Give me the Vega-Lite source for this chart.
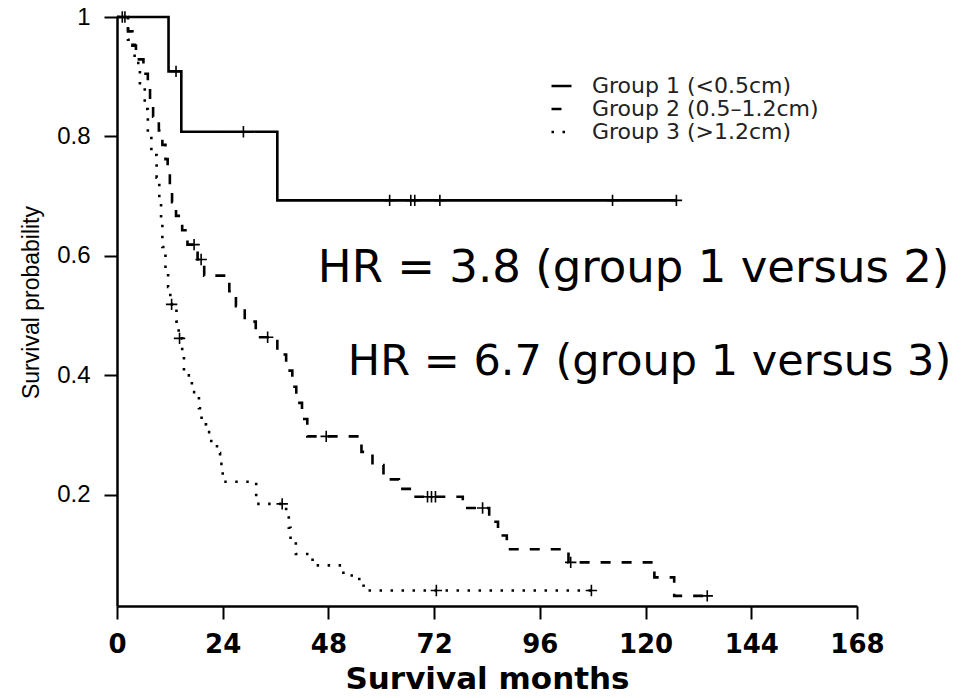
{
  "$schema": "https://vega.github.io/schema/vega-lite/v6.json",
  "width": 740,
  "height": 589,
  "autosize": {"type": "none"},
  "padding": {"left": 117, "top": 17, "right": 104, "bottom": 92},
  "background": "white",
  "config": {
    "view": {"stroke": null},
    "axis": {
      "grid": false,
      "domainColor": "black",
      "domainWidth": 2.5,
      "tickColor": "black",
      "tickWidth": 2,
      "tickSize": 13,
      "labelColor": "black",
      "titleColor": "black",
      "labelOverlap": false,
      "labelFlush": false
    }
  },
  "datasets": {
    "km": [
      {"group": "Group 1 (<0.5cm)", "month": 0, "surv": 1},
      {"group": "Group 1 (<0.5cm)", "month": 11.7, "surv": 0.909},
      {"group": "Group 1 (<0.5cm)", "month": 14.6, "surv": 0.808},
      {"group": "Group 1 (<0.5cm)", "month": 36.4, "surv": 0.693},
      {"group": "Group 1 (<0.5cm)", "month": 127, "surv": 0.693},

      {"group": "Group 2 (0.5\u20131.2cm)", "month": 0, "surv": 1},
      {"group": "Group 2 (0.5\u20131.2cm)", "month": 2.5, "surv": 0.976},
      {"group": "Group 2 (0.5\u20131.2cm)", "month": 3.5, "surv": 0.952},
      {"group": "Group 2 (0.5\u20131.2cm)", "month": 4.3, "surv": 0.929},
      {"group": "Group 2 (0.5\u20131.2cm)", "month": 6, "surv": 0.905},
      {"group": "Group 2 (0.5\u20131.2cm)", "month": 7, "surv": 0.881},
      {"group": "Group 2 (0.5\u20131.2cm)", "month": 7.5, "surv": 0.857},
      {"group": "Group 2 (0.5\u20131.2cm)", "month": 8.2, "surv": 0.833},
      {"group": "Group 2 (0.5\u20131.2cm)", "month": 9.5, "surv": 0.81},
      {"group": "Group 2 (0.5\u20131.2cm)", "month": 10.3, "surv": 0.786},
      {"group": "Group 2 (0.5\u20131.2cm)", "month": 11, "surv": 0.762},
      {"group": "Group 2 (0.5\u20131.2cm)", "month": 11.5, "surv": 0.738},
      {"group": "Group 2 (0.5\u20131.2cm)", "month": 12, "surv": 0.714},
      {"group": "Group 2 (0.5\u20131.2cm)", "month": 12.5, "surv": 0.69},
      {"group": "Group 2 (0.5\u20131.2cm)", "month": 13.4, "surv": 0.667},
      {"group": "Group 2 (0.5\u20131.2cm)", "month": 14.8, "surv": 0.643},
      {"group": "Group 2 (0.5\u20131.2cm)", "month": 16, "surv": 0.619},
      {"group": "Group 2 (0.5\u20131.2cm)", "month": 18.3, "surv": 0.594},
      {"group": "Group 2 (0.5\u20131.2cm)", "month": 19.8, "surv": 0.567},
      {"group": "Group 2 (0.5\u20131.2cm)", "month": 25.5, "surv": 0.541},
      {"group": "Group 2 (0.5\u20131.2cm)", "month": 27, "surv": 0.516},
      {"group": "Group 2 (0.5\u20131.2cm)", "month": 29, "surv": 0.49},
      {"group": "Group 2 (0.5\u20131.2cm)", "month": 31.5, "surv": 0.464},
      {"group": "Group 2 (0.5\u20131.2cm)", "month": 36.4, "surv": 0.435},
      {"group": "Group 2 (0.5\u20131.2cm)", "month": 38.4, "surv": 0.408},
      {"group": "Group 2 (0.5\u20131.2cm)", "month": 39.8, "surv": 0.381},
      {"group": "Group 2 (0.5\u20131.2cm)", "month": 40.7, "surv": 0.354},
      {"group": "Group 2 (0.5\u20131.2cm)", "month": 42, "surv": 0.327},
      {"group": "Group 2 (0.5\u20131.2cm)", "month": 43.2, "surv": 0.298},
      {"group": "Group 2 (0.5\u20131.2cm)", "month": 55.5, "surv": 0.272},
      {"group": "Group 2 (0.5\u20131.2cm)", "month": 58, "surv": 0.25},
      {"group": "Group 2 (0.5\u20131.2cm)", "month": 60.5, "surv": 0.226},
      {"group": "Group 2 (0.5\u20131.2cm)", "month": 64, "surv": 0.21},
      {"group": "Group 2 (0.5\u20131.2cm)", "month": 67, "surv": 0.197},
      {"group": "Group 2 (0.5\u20131.2cm)", "month": 78.5, "surv": 0.178},
      {"group": "Group 2 (0.5\u20131.2cm)", "month": 84.5, "surv": 0.155},
      {"group": "Group 2 (0.5\u20131.2cm)", "month": 86.5, "surv": 0.132},
      {"group": "Group 2 (0.5\u20131.2cm)", "month": 88.5, "surv": 0.109},
      {"group": "Group 2 (0.5\u20131.2cm)", "month": 102.5, "surv": 0.087},
      {"group": "Group 2 (0.5\u20131.2cm)", "month": 122, "surv": 0.062},
      {"group": "Group 2 (0.5\u20131.2cm)", "month": 126.5, "surv": 0.031},
      {"group": "Group 2 (0.5\u20131.2cm)", "month": 134, "surv": 0.031},

      {"group": "Group 3 (>1.2cm)", "month": 0, "surv": 1},
      {"group": "Group 3 (>1.2cm)", "month": 2.5, "surv": 0.962},
      {"group": "Group 3 (>1.2cm)", "month": 4, "surv": 0.923},
      {"group": "Group 3 (>1.2cm)", "month": 5.2, "surv": 0.885},
      {"group": "Group 3 (>1.2cm)", "month": 6.3, "surv": 0.846},
      {"group": "Group 3 (>1.2cm)", "month": 7, "surv": 0.808},
      {"group": "Group 3 (>1.2cm)", "month": 7.8, "surv": 0.769},
      {"group": "Group 3 (>1.2cm)", "month": 9, "surv": 0.731},
      {"group": "Group 3 (>1.2cm)", "month": 9.6, "surv": 0.692},
      {"group": "Group 3 (>1.2cm)", "month": 10, "surv": 0.654},
      {"group": "Group 3 (>1.2cm)", "month": 10.3, "surv": 0.615},
      {"group": "Group 3 (>1.2cm)", "month": 11, "surv": 0.577},
      {"group": "Group 3 (>1.2cm)", "month": 11.6, "surv": 0.548},
      {"group": "Group 3 (>1.2cm)", "month": 12.1, "surv": 0.519},
      {"group": "Group 3 (>1.2cm)", "month": 13.5, "surv": 0.49},
      {"group": "Group 3 (>1.2cm)", "month": 14, "surv": 0.462},
      {"group": "Group 3 (>1.2cm)", "month": 14.8, "surv": 0.433},
      {"group": "Group 3 (>1.2cm)", "month": 15.2, "surv": 0.4},
      {"group": "Group 3 (>1.2cm)", "month": 17, "surv": 0.372},
      {"group": "Group 3 (>1.2cm)", "month": 18.6, "surv": 0.345},
      {"group": "Group 3 (>1.2cm)", "month": 19.2, "surv": 0.318},
      {"group": "Group 3 (>1.2cm)", "month": 20.2, "surv": 0.305},
      {"group": "Group 3 (>1.2cm)", "month": 21.4, "surv": 0.286},
      {"group": "Group 3 (>1.2cm)", "month": 22.7, "surv": 0.27},
      {"group": "Group 3 (>1.2cm)", "month": 23.4, "surv": 0.252},
      {"group": "Group 3 (>1.2cm)", "month": 24, "surv": 0.222},
      {"group": "Group 3 (>1.2cm)", "month": 31.6, "surv": 0.185},
      {"group": "Group 3 (>1.2cm)", "month": 38.4, "surv": 0.165},
      {"group": "Group 3 (>1.2cm)", "month": 39, "surv": 0.145},
      {"group": "Group 3 (>1.2cm)", "month": 39.4, "surv": 0.126},
      {"group": "Group 3 (>1.2cm)", "month": 40.6, "surv": 0.101},
      {"group": "Group 3 (>1.2cm)", "month": 44.4, "surv": 0.082},
      {"group": "Group 3 (>1.2cm)", "month": 51.4, "surv": 0.065},
      {"group": "Group 3 (>1.2cm)", "month": 55, "surv": 0.048},
      {"group": "Group 3 (>1.2cm)", "month": 56, "surv": 0.04},
      {"group": "Group 3 (>1.2cm)", "month": 107.7, "surv": 0.04}
    ],
    "censored": [
      {"group": "Group 1 (<0.5cm)", "month": 13.4, "surv": 0.909},
      {"group": "Group 1 (<0.5cm)", "month": 28.7, "surv": 0.808},
      {"group": "Group 1 (<0.5cm)", "month": 61.9, "surv": 0.693},
      {"group": "Group 1 (<0.5cm)", "month": 66.7, "surv": 0.693},
      {"group": "Group 1 (<0.5cm)", "month": 67.6, "surv": 0.693},
      {"group": "Group 1 (<0.5cm)", "month": 73.3, "surv": 0.693},
      {"group": "Group 1 (<0.5cm)", "month": 112.5, "surv": 0.693},
      {"group": "Group 1 (<0.5cm)", "month": 127, "surv": 0.693},
      {"group": "Group 2 (0.5\u20131.2cm)", "month": 1.2, "surv": 1},
      {"group": "Group 2 (0.5\u20131.2cm)", "month": 1.8, "surv": 1},
      {"group": "Group 2 (0.5\u20131.2cm)", "month": 17.5, "surv": 0.619},
      {"group": "Group 2 (0.5\u20131.2cm)", "month": 19.1, "surv": 0.594},
      {"group": "Group 2 (0.5\u20131.2cm)", "month": 34.2, "surv": 0.464},
      {"group": "Group 2 (0.5\u20131.2cm)", "month": 47.5, "surv": 0.298},
      {"group": "Group 2 (0.5\u20131.2cm)", "month": 70.5, "surv": 0.197},
      {"group": "Group 2 (0.5\u20131.2cm)", "month": 71.4, "surv": 0.197},
      {"group": "Group 2 (0.5\u20131.2cm)", "month": 72.3, "surv": 0.197},
      {"group": "Group 2 (0.5\u20131.2cm)", "month": 83, "surv": 0.178},
      {"group": "Group 2 (0.5\u20131.2cm)", "month": 103, "surv": 0.087},
      {"group": "Group 2 (0.5\u20131.2cm)", "month": 134, "surv": 0.031},
      {"group": "Group 3 (>1.2cm)", "month": 12.4, "surv": 0.519},
      {"group": "Group 3 (>1.2cm)", "month": 14.2, "surv": 0.462},
      {"group": "Group 3 (>1.2cm)", "month": 37.5, "surv": 0.185},
      {"group": "Group 3 (>1.2cm)", "month": 72.5, "surv": 0.04},
      {"group": "Group 3 (>1.2cm)", "month": 107.7, "surv": 0.04}
    ],
    "notes": [
      {"line": 1, "label": "HR = 3.8 (group 1 versus 2)", "month": 45.6, "surv": 0.579},
      {"line": 2, "label": "HR = 6.7 (group 1 versus 3)", "month": 52.4, "surv": 0.423}
    ]
  },
  "layer": [
    {
      "data": {"name": "km"},
      "mark": {"type": "line", "interpolate": "step-after", "color": "black", "strokeWidth": 2.6, "strokeCap": "butt"},
      "encoding": {
        "x": {
          "field": "month", "type": "quantitative",
          "scale": {"domain": [0, 168], "nice": false, "zero": false},
          "axis": {
            "values": [0, 24, 48, 72, 96, 120, 144, 168],
            "title": "Survival months",
            "titleFont": "DejaVu Sans",
            "titleFontSize": 31,
            "titleFontWeight": "bold",
            "titleBaseline": "alphabetic",
            "titleY": 82.5,
            "labelFont": "DejaVu Sans",
            "labelFontWeight": "bold",
            "labelFontSize": 26,
            "labelPadding": 12
          }
        },
        "y": {
          "field": "surv", "type": "quantitative",
          "scale": {"domain": [0.014, 1], "nice": false, "zero": false},
          "axis": {
            "values": [0.2, 0.4, 0.6, 0.8, 1],
            "format": ".1~f",
            "title": "Survival probability",
            "titleFont": "Liberation Sans",
            "titleFontSize": 23,
            "titleFontWeight": "normal",
            "titleAngle": 270,
            "titleAlign": "center",
            "titleBaseline": "middle",
            "titleX": -86,
            "titleY": 285,
            "labelFont": "Liberation Sans",
            "labelFontSize": 24,
            "labelPadding": 14
          }
        },
        "strokeDash": {
          "field": "group", "type": "nominal",
          "scale": {
            "domain": ["Group 1 (<0.5cm)", "Group 2 (0.5\u20131.2cm)", "Group 3 (>1.2cm)"],
            "range": [[1, 0], [10, 11], [2.5, 8.5]]
          },
          "legend": {
            "title": null,
            "orient": "none",
            "legendX": 433,
            "legendY": 57.5,
            "padding": 0,
            "symbolType": "stroke",
            "symbolSize": 400,
            "symbolStrokeWidth": 2.5,
            "symbolStrokeColor": "black",
            "labelFont": "DejaVu Sans",
            "labelFontSize": 22,
            "labelColor": "#222222",
            "labelLimit": 0,
            "labelOffset": 19,
            "rowPadding": 0
          }
        }
      }
    },
    {
      "data": {"name": "censored"},
      "mark": {"type": "point", "shape": "M-1,0H1M0,-1V1", "filled": false, "stroke": "black", "strokeWidth": 1.6, "size": 130, "opacity": 1},
      "encoding": {
        "x": {"field": "month", "type": "quantitative"},
        "y": {"field": "surv", "type": "quantitative"}
      }
    },
    {
      "data": {"name": "notes"},
      "transform": [{"filter": "datum.line == 1"}],
      "mark": {"type": "text", "align": "left", "baseline": "middle", "font": "DejaVu Sans", "fontSize": 45, "color": "black"},
      "encoding": {
        "x": {"field": "month", "type": "quantitative"},
        "y": {"field": "surv", "type": "quantitative"},
        "text": {"field": "label"}
      }
    },
    {
      "data": {"name": "notes"},
      "transform": [{"filter": "datum.line == 2"}],
      "mark": {"type": "text", "align": "left", "baseline": "middle", "font": "DejaVu Sans", "fontSize": 43, "color": "black"},
      "encoding": {
        "x": {"field": "month", "type": "quantitative"},
        "y": {"field": "surv", "type": "quantitative"},
        "text": {"field": "label"}
      }
    }
  ]
}
